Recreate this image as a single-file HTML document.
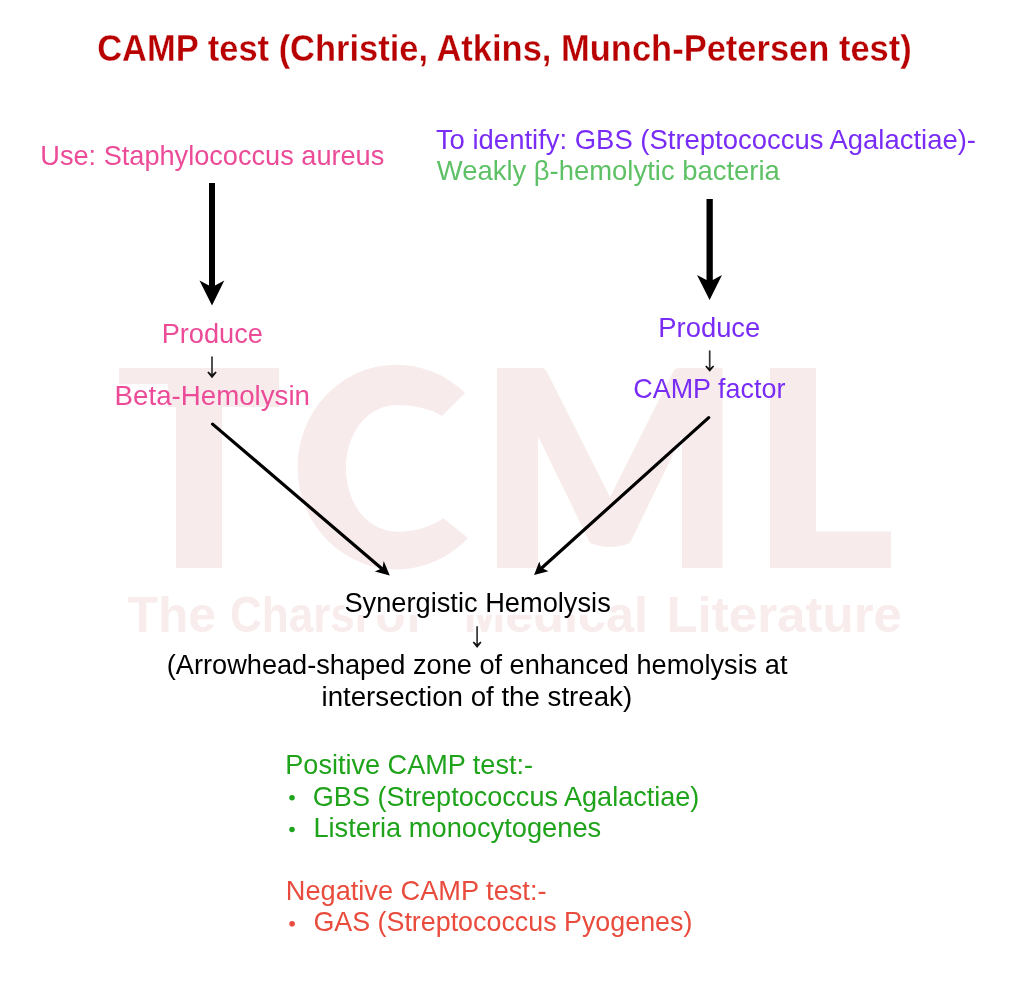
<!DOCTYPE html>
<html><head><meta charset="utf-8">
<style>
html,body{margin:0;padding:0;background:#fff;}
body{width:1024px;height:984px;overflow:hidden;}
svg{display:block;will-change:transform;}
text{font-family:"Liberation Sans",sans-serif;}
</style></head>
<body>
<svg width="1024" height="984" viewBox="0 0 1024 984">
<rect x="0" y="0" width="1024" height="984" fill="#fff"/>
<g fill="#f8ebeb">
  <path d="M119,368H279V407H222V568H176V407H119Z"/>
  <path d="M465,393 A99,102.4 0 1 0 468,538 L443.4,518.3 C431,527 415,531.7 398,531.7 C367,531.7 346,503 346,468 C346,433 367,405 398,405 C415,405 431,409 442,416 Z"/>
  <path d="M497,368H541Q545,368 547,372L610,497L673,372Q675,368 679,368H722.5V568H682V436L630,543Q610,551 590,543L538,436V568H497Z"/>
  <path d="M770,368H816V531.5H891V568H770Z"/>
</g>
<g fill="#f8ecec" font-size="50" font-weight="bold"><text id="w_the" x="127.60" y="632" textLength="88.40" lengthAdjust="spacingAndGlyphs">The</text><text id="w_charsi" x="230.10" y="632" textLength="136.90" lengthAdjust="spacingAndGlyphs">Charsi</text><text id="w_of" x="375.20" y="632" textLength="46.80" lengthAdjust="spacingAndGlyphs">of</text><text id="w_medical" x="463.40" y="632" textLength="184.60" lengthAdjust="spacingAndGlyphs">Medical</text><text id="w_lit" x="666.40" y="632" textLength="235.60" lengthAdjust="spacingAndGlyphs">Literature</text></g>

<rect x="344.5" y="588" width="266.5" height="27" fill="#fff" fill-opacity="0.85"/>
<rect x="119" y="384" width="49" height="23" fill="#fff" fill-opacity="0.85"/>
<path d="M209,183H215V285.5L224.3,280.5L212,305.6L199.5,280.5L209,285.5Z" fill="#000"/>
<path d="M706.5,199H712.8V280L722,275L709.6,300L697,275L706.5,280Z" fill="#000"/>
<path d="M212.0,357.2V374.6" stroke="#333" stroke-width="1.7" stroke-linecap="round" fill="none"/>
<path d="M207.3,372.6L208.4,371.6L212.0,374.6L215.6,371.6L216.7,372.6L212.0,378.3Z" fill="#111"/>
<path d="M709.7,351.1V368.4" stroke="#333" stroke-width="1.7" stroke-linecap="round" fill="none"/>
<path d="M705.2,366.4L706.3,365.4L709.7,368.4L713.1,365.4L714.2,366.4L709.7,371.8Z" fill="#111"/>
<path d="M477.1,626.9V644.4" stroke="#333" stroke-width="1.7" stroke-linecap="round" fill="none"/>
<path d="M472.7,642.4L473.8,641.4L477.1,644.4L480.4,641.4L481.5,642.4L477.1,648.0Z" fill="#111"/>
<g stroke="#000" stroke-width="3.2" stroke-linecap="round">
  <path d="M212.6,424.1L384,570.5"/>
  <path d="M708.7,417.6L539.5,570"/>
</g>
<path d="M389.8,575.4L383.7,561.1L382.5,568.1L374.9,571.6Z" fill="#000"/>
<path d="M534.1,575.1L539.3,561.4L541.1,567.5L548.4,571.3Z" fill="#000"/>
<circle cx="292" cy="797.7" r="2.75" fill="#1ea31a"/>
<circle cx="292" cy="829.4" r="2.75" fill="#1ea31a"/>
<circle cx="292.1" cy="923.8" r="2.8" fill="#e94b3c"/>
<text id="t_title" x="97.20" y="60.50" font-size="36.6" fill="#b80000" font-weight="bold" stroke="#fff" stroke-width="0.3" textLength="814.60" lengthAdjust="spacingAndGlyphs">CAMP test (Christie, Atkins, Munch-Petersen test)</text>
<text id="t_use" x="40.30" y="164.90" font-size="27.5" fill="#ec4b98" textLength="344.00" lengthAdjust="spacingAndGlyphs">Use: Staphylococcus aureus</text>
<text id="t_toid" x="435.90" y="149.00" font-size="27.5" fill="#7a2cf7" textLength="540.10" lengthAdjust="spacingAndGlyphs">To identify: GBS (Streptococcus Agalactiae)-</text>
<text id="t_weakly" x="436.80" y="180.40" font-size="27.5" fill="#5ec166" textLength="343.00" lengthAdjust="spacingAndGlyphs">Weakly β-hemolytic bacteria</text>
<text id="t_prodL" x="161.70" y="342.70" font-size="27.5" fill="#ec4b98" textLength="101.20" lengthAdjust="spacingAndGlyphs">Produce</text>
<text id="t_betaL" x="114.60" y="404.50" font-size="27.5" fill="#ec4b98" textLength="195.40" lengthAdjust="spacingAndGlyphs">Beta-Hemolysin</text>
<text id="t_prodR" x="658.30" y="336.80" font-size="27.5" fill="#7a2cf7" textLength="102.00" lengthAdjust="spacingAndGlyphs">Produce</text>
<text id="t_campR" x="633.30" y="397.90" font-size="27.5" fill="#7a2cf7" textLength="152.10" lengthAdjust="spacingAndGlyphs">CAMP factor</text>
<text id="t_syn" x="344.40" y="612.40" font-size="27.5" fill="#000" textLength="266.40" lengthAdjust="spacingAndGlyphs">Synergistic Hemolysis</text>
<text id="t_arrowhead" x="166.80" y="674.40" font-size="27.5" fill="#000" textLength="620.70" lengthAdjust="spacingAndGlyphs">(Arrowhead-shaped zone of enhanced hemolysis at</text>
<text id="t_inter" x="321.50" y="706.20" font-size="27.5" fill="#000" textLength="310.60" lengthAdjust="spacingAndGlyphs">intersection of the streak)</text>
<text id="t_pos" x="285.30" y="773.60" font-size="27.5" fill="#1ea31a" textLength="247.70" lengthAdjust="spacingAndGlyphs">Positive CAMP test:-</text>
<text id="t_gbs" x="312.80" y="805.50" font-size="27.5" fill="#1ea31a" textLength="386.60" lengthAdjust="spacingAndGlyphs">GBS (Streptococcus Agalactiae)</text>
<text id="t_list" x="313.40" y="836.90" font-size="27.5" fill="#1ea31a" textLength="287.80" lengthAdjust="spacingAndGlyphs">Listeria monocytogenes</text>
<text id="t_neg" x="285.80" y="899.80" font-size="27.5" fill="#e94b3c" textLength="260.70" lengthAdjust="spacingAndGlyphs">Negative CAMP test:-</text>
<text id="t_gas" x="313.40" y="931.30" font-size="27.5" fill="#e94b3c" textLength="379.00" lengthAdjust="spacingAndGlyphs">GAS (Streptococcus Pyogenes)</text>
</svg>
</body></html>
